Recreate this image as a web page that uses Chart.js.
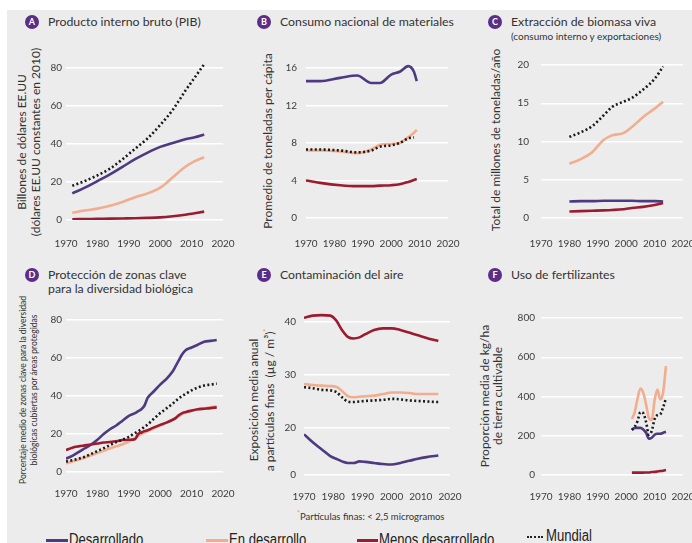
<!DOCTYPE html>
<html lang="es">
<head>
<meta charset="utf-8">
<script src="https://cdn.jsdelivr.net/npm/chart.js@4.4.1/dist/chart.umd.min.js"></script>
<style>
  html, body { margin: 0; padding: 0; }
  body { width: 692px; height: 543px; overflow: hidden; position: relative; background: #fff;
         font-family: Lato, "Open Sans", sans-serif; color: #333; }
  #bg { position: absolute; left: 7px; top: 10px; right: 0; bottom: 0; background: #ececec; }
  canvas { position: absolute; }
  .badge { position: absolute; width: 14px; height: 14px; margin: -7px 0 0 -7px; border-radius: 50%;
           background: #5b2d87; color: #fff; font-size: 9px; line-height: 14px; text-align: center; font-weight: bold; }
  .title { position: absolute; font-size: 12.3px; white-space: nowrap; line-height: 14px; color: #333; }
  .sub { font-size: 10px; }
  .ytitle { position: absolute; white-space: nowrap; text-align: center; color: #333;
            transform: translate(-50%, -50%) rotate(-90deg); }
  .ast { color: #e8946c; font-size: 7px; vertical-align: super; }
  /* condensed legend lettering */
  .legend { position: absolute; font-family: "Liberation Sans", Arial, sans-serif;
            font-size: 16px; line-height: 16px; color: #222; white-space: nowrap;
            transform: scaleX(0.82); transform-origin: 0 0; }
  .sw { position: absolute; height: 0; }
</style>
</head>
<body>
<div id="bg"></div>

<!-- panel titles -->
<div class="badge" style="left:32px;top:22px">A</div>
<div class="title" style="left:48px;top:15px">Producto interno bruto (PIB)</div>
<div class="badge" style="left:264px;top:22px">B</div>
<div class="title" style="left:280px;top:15px">Consumo nacional de materiales</div>
<div class="badge" style="left:495px;top:22px">C</div>
<div class="title" style="left:511px;top:15px">Extracción de biomasa viva<br><span class="sub">(consumo interno y exportaciones)</span></div>

<div class="badge" style="left:32px;top:275px">D</div>
<div class="title" style="left:48px;top:268px">Protección de zonas clave<br>para la diversidad biológica</div>
<div class="badge" style="left:264px;top:275px">E</div>
<div class="title" style="left:280px;top:268px">Contaminación del aire</div>
<div class="badge" style="left:495px;top:275px">F</div>
<div class="title" style="left:511px;top:268px">Uso de fertilizantes</div>

<!-- y-axis titles -->
<div class="ytitle" style="left:29px;top:142px;font-size:12px;line-height:14px">Billones de dólares EE.UU<br>(dólares EE.UU constantes en 2010)</div>
<div class="ytitle" style="left:268px;top:141px;font-size:12px;line-height:14px">Promedio de toneladas per cápita</div>
<div class="ytitle" style="left:496px;top:140px;font-size:12px;line-height:14px">Total de millones de toneladas/año</div>
<div class="ytitle" style="left:29px;top:390px;font-size:8.5px;line-height:11px">Porcentaje medio de zonas clave para la diversidad<br>biológicas cubiertas por áreas protegidas</div>
<div class="ytitle" style="left:261px;top:400px;font-size:12px;line-height:13px">Exposición media anual<br>a partículas finas &nbsp;(µg / m³)<span class="ast">*</span></div>
<div class="ytitle" style="left:491px;top:396px;font-size:12px;line-height:13px">Proporción media de kg/ha<br>de tierra cultivable</div>

<div class="title" style="left:297px;top:506px;font-size:9.5px"><span class="ast">*</span>Partículas finas: &lt; 2,5 microgramos</div>

<!-- shared legend -->
<div class="sw" style="left:46px;width:22px;top:539px;border-top:3px solid #4d3a80"></div>
<div class="legend" style="left:69px;top:532px">Desarrollado</div>
<div class="sw" style="left:206px;width:22px;top:539px;border-top:3px solid #f2ad8e"></div>
<div class="legend" style="left:229px;top:532px">En desarrollo</div>
<div class="sw" style="left:357px;width:21px;top:539px;border-top:3px solid #9b1c31"></div>
<div class="legend" style="left:379px;top:532px">Menos desarrollado</div>
<div class="sw" style="left:527px;width:16px;top:536px;border-top:2px dotted #222"></div>
<div class="legend" style="left:546px;top:528px">Mundial</div>

<script>
// ---- series labels and colours ----
const seriesNames = ['Desarrollado', 'En desarrollo', 'Menos desarrollado', 'Mundial'];
const seriesColors = ['#4d3a80', '#f2ad8e', '#9b1c31', '#1a1a1a'];

// ---- A: Producto interno bruto (billones de USD de 2010) ----
const pibYears = [1972, 1976, 1980, 1984, 1988, 1992, 1996, 2000, 2004, 2008, 2011, 2014];
const pibDesarrollado = [14, 17, 20.5, 24, 28, 32, 35.5, 38.5, 40.5, 42.5, 43.5, 45];
const pibEnDesarrollo = [3.8, 5, 6, 7.5, 9.5, 12, 14, 17, 22.5, 28, 31, 33];
const pibMenosDesarrollado = [0.4, 0.5, 0.6, 0.7, 0.8, 0.9, 1.1, 1.4, 2.0, 2.8, 3.6, 4.4];
const pibMundial = [18, 20.5, 23.5, 27, 32, 37.5, 43, 50, 58, 68, 75, 82];
const pibTicks = [0, 20, 40, 60, 80];

// ---- B: Consumo nacional de materiales (t per cápita) ----
const dmcYears = [1970, 1975, 1982, 1988, 1993, 1996, 2000, 2003, 2006, 2008, 2009];
const dmcDesarrollado = [14.6, 14.6, 14.95, 15.2, 14.4, 14.4, 15.3, 15.6, 16.2, 15.6, 14.6];
const dmcEnDesarrollo = [7.2, 7.2, 7.1, 6.9, 7.3, 7.8, 7.9, 8.0, 8.6, 9.1, 9.4];
const dmcMenosDesarrollado = [4.0, 3.75, 3.5, 3.4, 3.4, 3.45, 3.5, 3.6, 3.85, 4.05, 4.15];
const dmcMundial = [7.3, 7.3, 7.2, 7.0, 7.2, 7.6, 7.75, 8.0, 8.5, 8.6, null];
const dmcTicks = [0, 4, 8, 12, 16];

// ---- C: Extracción de biomasa viva (millones de t/año) ----
const bioYears = [1980, 1984, 1988, 1992, 1995, 1999, 2002, 2006, 2010, 2013];
const bioDesarrollado = [2.15, 2.2, 2.2, 2.25, 2.25, 2.25, 2.25, 2.2, 2.2, 2.15];
const bioEnDesarrollo = [7.1, 7.7, 8.6, 10.2, 10.8, 11.1, 11.9, 13.2, 14.3, 15.2];
const bioMenosDesarrollado = [0.85, 0.9, 0.95, 1.0, 1.05, 1.15, 1.3, 1.45, 1.7, 1.95];
const bioMundial = [10.6, 11.2, 12.0, 13.4, 14.5, 15.2, 15.7, 16.8, 18.2, 19.8];
const bioTicks = [0, 5, 10, 15, 20];

// ---- D: Protección de zonas clave para la biodiversidad (%) ----
const kbaYears = [1970, 1972, 1974, 1976, 1978, 1980, 1982, 1984, 1986, 1988, 1990, 1992, 1993, 1994, 1995,
                  1996, 1998, 2000, 2002, 2004, 2005, 2006, 2007, 2008, 2010, 2012, 2014, 2016, 2018];
const kbaDesarrollado = [7, 8.5, 10.5, 12.5, 14.5, 17, 20, 22.5, 24.5, 27, 29.5, 31, 32, 33, 35,
                         39, 42.5, 46, 49, 53, 56, 59, 62, 64, 65.5, 67, 68.5, 69, 69.5];
const kbaEnDesarrollo = [4.5, 5.5, 6.5, 7.5, 8.8, 10, 11.2, 12.4, 13.5, 14.6, 16, 18, 19, 20, 20.8,
                         21.5, 23, 24.5, 26, 27.5, 28.5, 29.5, 30.5, 31.3, 32.2, 33, 33.5, 34, 34.5];
const kbaMenosDesarrollado = [11.5, 12.8, 13.5, 14, 14.5, 15, 15.5, 15.8, 16.2, 16.8, 17, 17.3, 20, 20.8, 21.5,
                              22, 23.5, 24.8, 26, 27.5, 28.5, 30, 31, 31.5, 32.3, 33, 33.3, 33.6, 34];
const kbaMundial = [5.5, 6.2, 7, 8, 9.5, 11, 12.5, 14.2, 15.7, 17, 18.5, 20.5, 21.5, 22.5, 23.8,
                    25, 28, 31, 33.5, 36, 37.5, 38.8, 40, 41, 43, 44.5, 45.5, 46, 46.5];
const kbaTicks = [0, 20, 40, 60, 80];

// ---- E: Contaminación del aire, PM2,5 (µg/m³); the lowest tick is an axis break shown as 0 ----
const pmYears = [1970, 1973, 1976, 1979, 1981, 1983, 1985, 1987, 1989, 1991, 1994, 1997, 2000, 2003, 2006, 2009, 2012, 2016];
const pmDesarrollado = [18.8, 17.3, 16.0, 14.7, 14.2, 13.7, 13.4, 13.4, 13.7, 13.6, 13.4, 13.2, 13.1, 13.4, 13.8, 14.2, 14.5, 14.8];
const pmEnDesarrollo = [28.3, 28.1, 28.0, 27.9, 27.8, 27.0, 26.0, 25.8, 25.9, 26.0, 26.1, 26.4, 26.7, 26.7, 26.6, 26.4, 26.4, 26.4];
const pmMenosDesarrollado = [40.8, 41.2, 41.3, 41.2, 40.3, 38.5, 37.2, 36.9, 37.1, 37.7, 38.5, 38.8, 38.8, 38.5, 38.0, 37.5, 37.0, 36.4];
const pmMundial = [27.7, 27.5, 27.2, 27.1, 26.8, 25.8, 25.0, 24.9, 25.0, 25.1, 25.2, 25.3, 25.5, 25.4, 25.2, 25.1, 25.0, 24.9];
const pmAxisBreak = 11.13;
const pmTicks = [pmAxisBreak, 20, 30, 40];

// ---- F: Uso de fertilizantes (kg/ha de tierra cultivable) ----
const fertYears = [2002, 2003, 2004, 2005, 2006, 2007, 2008, 2009, 2010, 2011, 2012, 2013, 2014];
const fertDesarrollado = [230, 240, 240, 240, 232, 215, 185, 190, 205, 210, 210, 215, 220];
const fertEnDesarrollo = [285, 320, 390, 440, 420, 360, 290, 280, 380, 435, 385, 420, 555];
const fertMenosDesarrollado = [12, 12, 12, 12, 12, 13, 13, 15, 16, 18, 20, 22, 25];
const fertMundial = [230, 245, 275, 320, 315, 270, 205, 225, 285, 305, 310, 345, 390];
const fertTicks = [0, 200, 400, 600, 800];

const xTicks = [1970, 1980, 1990, 2000, 2010, 2020];

Chart.defaults.font.family = 'Lato, "Open Sans", sans-serif';
Chart.defaults.color = '#3c3c3c';

function series(years, values, idx) {
  const isWorld = idx === 3;
  return {
    label: seriesNames[idx],
    data: years.map((y, i) => ({ x: y, y: values[i] })),
    borderColor: seriesColors[idx],
    borderWidth: 2.6,
    borderDash: isWorld ? [2, 2.4] : [],
    borderCapStyle: 'butt',
    cubicInterpolationMode: 'monotone',
    pointRadius: 0,
    spanGaps: false,
    order: isWorld ? 0 : 3 - idx
  };
}

// geometry of each plot area in page pixels: L/R = x of 1970/2020, T/B = top/bottom,
// ref = [tick value, its pixel y] used to set the vertical scale
function panel(g, years, sets, ticks, labelFn) {
  const ppu = (g.B - g.ref[1]) / (g.ref[0] - g.yMin);
  const yMax = g.yMin + (g.B - g.T) / ppu;
  const padL = 40, padT = 10, padR = 16, padB = 30;
  const cv = document.createElement('canvas');
  const w = g.R - g.L + padL + padR, h = g.B - g.T + padT + padB;
  cv.width = w; cv.height = h;
  cv.style.left = (g.L - padL) + 'px';
  cv.style.top = (g.T - padT) + 'px';
  cv.style.width = w + 'px'; cv.style.height = h + 'px';
  document.body.appendChild(cv);
  new Chart(cv, {
    type: 'line',
    data: { datasets: sets.map((v, i) => series(years, v, i)) },
    options: {
      responsive: false, animation: false, devicePixelRatio: 1,
      layout: { autoPadding: false, padding: { left: 0, top: padT, right: padR, bottom: 0 } },
      plugins: { legend: { display: false }, tooltip: { enabled: false } },
      scales: {
        x: {
          type: 'linear', min: 1970, max: 2020,
          grid: { display: false }, border: { display: false },
          afterBuildTicks: s => { s.ticks = xTicks.map(v => ({ value: v })); },
          afterFit: s => { s.height = padB; s.paddingLeft = 0; s.paddingRight = 0; },
          ticks: { font: { size: 10 }, padding: g.xPad, maxRotation: 0, autoSkip: false, callback: v => String(v) }
        },
        y: {
          min: g.yMin, max: yMax,
          grid: { color: '#ffffff', lineWidth: 1.4, drawTicks: false },
          border: { display: false },
          afterBuildTicks: s => { s.ticks = ticks.map(v => ({ value: v })); },
          afterFit: s => { s.width = padL; s.paddingTop = 0; s.paddingBottom = 0; },
          ticks: { font: { size: 10 }, padding: g.yPad, callback: labelFn || (v => String(v)) }
        }
      }
    }
  });
}

panel({ L: 66, R: 223, T: 56, B: 220, yMin: 0, ref: [80, 68], yPad: 4, xPad: 10 },
      pibYears, [pibDesarrollado, pibEnDesarrollo, pibMenosDesarrollado, pibMundial], pibTicks);
panel({ L: 306, R: 448, T: 56, B: 218, yMin: 0, ref: [16, 68], yPad: 9, xPad: 12 },
      dmcYears, [dmcDesarrollado, dmcEnDesarrollo, dmcMenosDesarrollado, dmcMundial], dmcTicks);
panel({ L: 541, R: 683, T: 56, B: 218, yMin: 0, ref: [20, 65], yPad: 12, xPad: 12 },
      bioYears, [bioDesarrollado, bioEnDesarrollo, bioMenosDesarrollado, bioMundial], bioTicks);
panel({ L: 66, R: 223, T: 308, B: 472, yMin: 0, ref: [80, 320], yPad: 4, xPad: 8 },
      kbaYears, [kbaDesarrollado, kbaEnDesarrollo, kbaMenosDesarrollado, kbaMundial], kbaTicks);
panel({ L: 304, R: 450, T: 308, B: 475, yMin: pmAxisBreak, ref: [40, 322], yPad: 8, xPad: 8 },
      pmYears, [pmDesarrollado, pmEnDesarrollo, pmMenosDesarrollado, pmMundial], pmTicks,
      v => (v === pmAxisBreak ? '0' : String(v)));
panel({ L: 541, R: 683, T: 308, B: 475, yMin: 0, ref: [800, 318], yPad: 6, xPad: 8 },
      fertYears, [fertDesarrollado, fertEnDesarrollo, fertMenosDesarrollado, fertMundial], fertTicks);
</script>
</body>
</html>
